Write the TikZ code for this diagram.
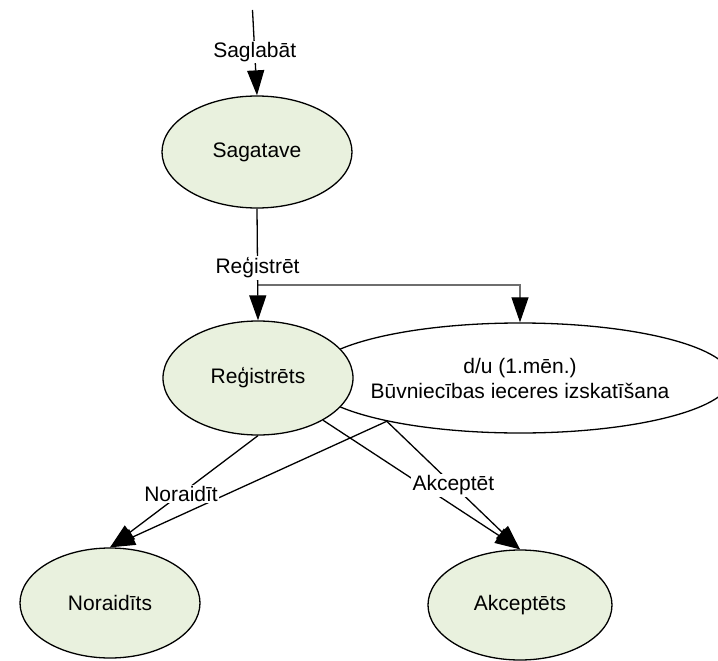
\documentclass[tikz,border=0pt]{standalone}
\usepackage{fontspec}
\setmainfont{Liberation Sans}
\usetikzlibrary{shapes.geometric,arrows.meta}

\definecolor{stategreen}{RGB}{233,241,222}
\definecolor{forkgray}{RGB}{110,110,110}

\tikzset{
  state/.style={ellipse, draw=black, line width=1.3pt, fill=stategreen,
    inner sep=0pt, font=\fontsize{21}{25}\selectfont},
  substate/.style={ellipse, draw=black, line width=1.3pt, fill=white,
    inner sep=0pt, align=center, font=\fontsize{21}{25}\selectfont},
  trans/.style={draw=black, line width=1.3pt,
    -{Triangle[length=25pt,width=17pt]}},
  forkline/.style={draw=forkgray, line width=1.1pt,
    -{Triangle[length=25pt,width=17pt,color=black,fill=black]}},
  lbl/.style={fill=white, inner sep=1.5pt, font=\fontsize{21}{25}\selectfont}
}

\begin{document}
\begin{tikzpicture}[x=1pt,y=-1pt]
  \useasboundingbox (0,0) rectangle (718,661);

  % review sub-state first, so the green state lies on top of it
  \node[substate, minimum width=394pt, minimum height=110pt] (rev) at (520,378)
    {d/u (1.mēn.)\\Būvniecības ieceres izskatīšana};

  \node[state, minimum width=190pt, minimum height=112pt] (sag) at (257,152) {Sagatave};
  \node[state, minimum width=190pt, minimum height=114pt] (reg) at (258,378) {Reģistrēts};
  \node[state, minimum width=180pt, minimum height=110pt] (nor) at (110,603) {Noraidīts};
  \node[state, minimum width=184pt, minimum height=110pt] (akc) at (520,605) {Akceptēts};

  \coordinate (start) at (252.5,10);
  \coordinate (fork) at (257,285);

  % entry transition
  \draw[trans] (start) -- node[lbl, pos=0.49] {Saglabāt} (sag.north);

  % registration, with the branch to the review sub-state
  \draw[forkline] (fork) -| (rev.north);
  \draw[trans] (sag.south) -- node[lbl, pos=0.53] {Reģistrēt} (reg.north);

  % unlabelled transitions
  \draw[trans] (rev.198) -- (nor.north);
  \draw[trans] (reg.-33.5) -- (akc.north);

  % labelled transitions
  \draw[trans] (reg.south) -- node[lbl, pos=0.52] {Noraidīt} (nor.north);
  \draw[trans] (rev.198) -- node[lbl, pos=0.5] {Akceptēt} (akc.north);
\end{tikzpicture}
\end{document}
